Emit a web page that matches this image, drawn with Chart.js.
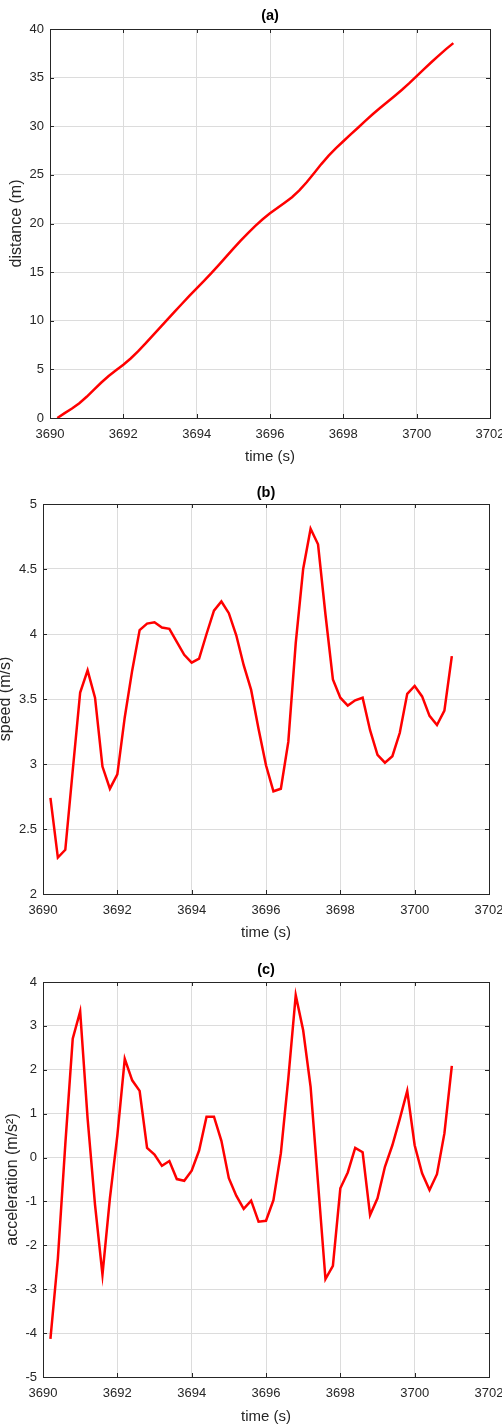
<!DOCTYPE html>
<html>
<head>
<meta charset="utf-8">
<script src="https://cdn.jsdelivr.net/npm/chart.js@4.4.1/dist/chart.umd.min.js"></script>
<style>
  html, body { margin: 0; padding: 0; background: #fff; }
  #wrap { position: relative; width: 502px; height: 1428px; overflow: hidden; }
  canvas { position: absolute; left: 0; }
</style>
</head>
<body>
<div id="wrap">
  <canvas id="chartA" width="502" height="470" style="top:0px"></canvas>
  <canvas id="chartB" width="502" height="475" style="top:470px"></canvas>
  <canvas id="chartC" width="502" height="483" style="top:945px"></canvas>
</div>
<script>
// sample times (s)
const time = [3690.2, 3690.4, 3690.6, 3690.8, 3691.0, 3691.2, 3691.4, 3691.6, 3691.8, 3692.0,
  3692.2, 3692.4, 3692.6, 3692.8, 3693.0, 3693.2, 3693.4, 3693.6, 3693.8, 3694.0,
  3694.2, 3694.4, 3694.6, 3694.8, 3695.0, 3695.2, 3695.4, 3695.6, 3695.8, 3696.0,
  3696.2, 3696.4, 3696.6, 3696.8, 3697.0, 3697.2, 3697.4, 3697.6, 3697.8, 3698.0,
  3698.2, 3698.4, 3698.6, 3698.8, 3699.0, 3699.2, 3699.4, 3699.6, 3699.8, 3700.0,
  3700.2, 3700.4, 3700.6, 3700.8, 3701.0];

// (a) distance (m)
const distance = [0.0, 0.5, 0.97, 1.52, 2.18, 2.92, 3.65, 4.31, 4.9, 5.48,
  6.12, 6.85, 7.64, 8.47, 9.3, 10.12, 10.94, 11.75, 12.55, 13.33,
  14.1, 14.89, 15.72, 16.57, 17.42, 18.24, 19.02, 19.76, 20.44, 21.05,
  21.6, 22.14, 22.7, 23.4, 24.24, 25.17, 26.11, 26.98, 27.75, 28.46,
  29.16, 29.85, 30.55, 31.23, 31.87, 32.49, 33.11, 33.75, 34.43, 35.16,
  35.88, 36.58, 37.26, 37.93, 38.55];

// (b) speed (m/s)
const speed = [2.74, 2.28, 2.34, 2.95, 3.55, 3.72, 3.51, 2.98, 2.81, 2.92,
  3.36, 3.72, 4.03, 4.08, 4.09, 4.05, 4.04, 3.94, 3.84, 3.78,
  3.81, 4.0, 4.18, 4.25, 4.16, 3.99, 3.76, 3.57, 3.27, 2.99,
  2.79, 2.81, 3.17, 3.93, 4.5, 4.81, 4.69, 4.15, 3.65, 3.51,
  3.45, 3.49, 3.51, 3.26, 3.07, 3.01, 3.06, 3.24, 3.54, 3.6,
  3.52, 3.37, 3.3, 3.41, 3.83];

// (c) acceleration (m/s^2)
const acceleration = [-4.13, -2.3, 0.3, 2.71, 3.33, 0.89, -1.08, -2.67, -0.93, 0.5,
  2.25, 1.76, 1.52, 0.22, 0.07, -0.19, -0.08, -0.49, -0.53, -0.3,
  0.16, 0.93, 0.93, 0.38, -0.47, -0.87, -1.17, -0.98, -1.46, -1.44,
  -0.97, 0.1, 1.8, 3.7, 2.9, 1.61, -0.58, -2.77, -2.47, -0.7,
  -0.34, 0.22, 0.12, -1.31, -0.93, -0.21, 0.28, 0.88, 1.52, 0.28,
  -0.36, -0.74, -0.38, 0.55, 2.09];

const FONT = '"Liberation Sans", Arial, Helvetica, sans-serif';
const axisColor = '#262626';

// MATLAB-like box with inward ticks on all four sides
const matlabBox = {
  id: 'matlabBox',
  afterDatasetsDraw(chart) {
    const { ctx, chartArea: a, scales: { x, y } } = chart;
    const tl = 4;
    ctx.save();
    ctx.strokeStyle = axisColor;
    ctx.lineWidth = 1;
    ctx.beginPath();
    x.ticks.forEach(t => {
      const px = Math.round(x.getPixelForValue(t.value)) + 0.5;
      ctx.moveTo(px, a.bottom); ctx.lineTo(px, a.bottom - tl);
      ctx.moveTo(px, a.top); ctx.lineTo(px, a.top + tl);
    });
    y.ticks.forEach(t => {
      const py = Math.round(y.getPixelForValue(t.value)) + 0.5;
      ctx.moveTo(a.left, py); ctx.lineTo(a.left + tl, py);
      ctx.moveTo(a.right, py); ctx.lineTo(a.right - tl, py);
    });
    ctx.stroke();
    ctx.strokeRect(Math.round(a.left) + 0.5, Math.round(a.top) + 0.5,
      Math.round(a.right - a.left), Math.round(a.bottom - a.top));
    ctx.restore();
  }
};

function makePanel(id, values, o) {
  const H = document.getElementById(id).height;
  new Chart(document.getElementById(id), {
    type: 'line',
    data: {
      datasets: [{
        data: time.map((t, i) => ({ x: t, y: values[i] })),
        borderColor: '#ff0000',
        borderWidth: 2.5,
        pointRadius: 0,
        tension: 0,
        fill: false
      }]
    },
    options: {
      responsive: false,
      animation: false,
      layout: { padding: { left: 0, right: 502 - o.right, top: 0, bottom: 0 } },
      plugins: {
        legend: { display: false },
        tooltip: { enabled: false },
        title: {
          display: true,
          text: o.title,
          fullSize: false,
          color: '#000',
          font: { family: FONT, size: 14.5, weight: 'bold', lineHeight: 1.2 },
          padding: { top: o.titleTop, bottom: o.top - o.titleTop - 17.4 }
        }
      },
      scales: {
        x: {
          type: 'linear',
          min: 3690, max: 3702,
          border: { display: false },
          grid: { color: '#dcdcdc', lineWidth: 1, drawTicks: false },
          ticks: {
            stepSize: 2,
            padding: 9,
            color: axisColor,
            maxRotation: 0,
            autoSkip: false,
            font: { family: FONT, size: 13 },
            callback: v => String(v)
          },
          title: {
            display: true,
            text: 'time (s)',
            color: axisColor,
            font: { family: FONT, size: 15, lineHeight: 1 },
            padding: { top: 0, bottom: o.xTitleBottom }
          },
          afterFit(s) { s.height = H - o.bottom; s.paddingLeft = 0; s.paddingRight = 0; }
        },
        y: {
          min: o.yMin, max: o.yMax,
          border: { display: false },
          grid: { color: '#dcdcdc', lineWidth: 1, drawTicks: false },
          ticks: {
            stepSize: o.step,
            padding: 6,
            color: axisColor,
            font: { family: FONT, size: 13 },
            callback: v => String(Math.round(v * 100) / 100)
          },
          title: {
            display: true,
            text: o.yLabel,
            color: axisColor,
            font: { family: FONT, size: 16, lineHeight: 1 },
            padding: { top: o.yTitleTop, bottom: 0 }
          },
          afterFit(s) { s.width = o.left; }
        }
      }
    },
    plugins: [matlabBox]
  });
}

makePanel('chartA', distance, {
  title: '(a)', yLabel: 'distance (m)', yMin: 0, yMax: 40, step: 5,
  left: 50, right: 490, top: 29, bottom: 418, titleTop: 7.3,
  yTitleTop: 8.7, xTitleBottom: 5.8
});
makePanel('chartB', speed, {
  title: '(b)', yLabel: 'speed (m/s)', yMin: 2, yMax: 5, step: 0.5,
  left: 43, right: 489, top: 34, bottom: 424, titleTop: 14,
  yTitleTop: -2, xTitleBottom: 4.8
});
makePanel('chartC', acceleration, {
  title: '(c)', yLabel: 'acceleration (m/s²)', yMin: -5, yMax: 4, step: 1,
  left: 43, right: 489, top: 37, bottom: 432, titleTop: 16.3,
  yTitleTop: 4.7, xTitleBottom: 3.8
});
</script>
</body>
</html>
